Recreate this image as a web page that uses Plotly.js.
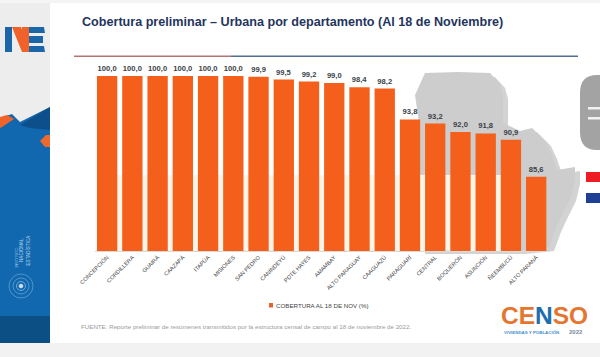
<!DOCTYPE html>
<html><head><meta charset="utf-8">
<script src="https://cdn.plot.ly/plotly-3.0.1.min.js"></script>
<style>html,body{margin:0;padding:0;background:#fff}#c{width:600px;height:357px}</style>
</head><body><div id="c"></div>
<script>
const departamentos = ["CONCEPCIÓN","CORDILLERA","GUAIRÁ","CAAZAPÁ","ITAPÚA","MISIONES","SAN PEDRO","CANINDEYÚ","PDTE HAYES","AMAMBAY","ALTO PARAGUAY","CAAGUAZÚ","PARAGUARÍ","CENTRAL","BOQUERÓN","ASUNCIÓN","ÑEEMBUCÚ","ALTO PARANÁ"];
const cobertura = [100.0,100.0,100.0,100.0,100.0,100.0,99.9,99.5,99.2,99.0,98.4,98.2,93.8,93.2,92.0,91.8,90.9,85.6];
const serieNombre = "COBERTURA AL 18 DE NOV (%)";
const tituloTexto = "Cobertura preliminar – Urbana por departamento (Al 18 de Noviembre)";
const fuenteTexto = "FUENTE: Reporte preliminar de resúmenes transmitidos por la estructura censal de campo al 18 de noviembre de 2022.";

const W = 600, H = 357;
const px = x => x / W, py = y => 1 - y / H;
const path = (pts, close = true) => pts.map((p, i) => (i ? "L" : "M") + px(p[0]).toFixed(4) + "," + py(p[1]).toFixed(4)).join(" ") + (close ? " Z" : "");
const rect = (x0, y0, x1, y1, fill, layer = "below") => ({type: "rect", xref: "paper", yref: "paper", x0: px(x0), x1: px(x1), y0: py(y0), y1: py(y1), fillcolor: fill, line: {width: 0}, layer});
const poly = (pts, fill, layer = "below", opacity = 1) => ({type: "path", xref: "paper", yref: "paper", path: path(pts), fillcolor: fill, line: {width: 0}, layer, opacity});
const circle = (cx, cy, r, col, w, fill) => ({type: "circle", xref: "paper", yref: "paper", x0: px(cx - r), x1: px(cx + r), y0: py(cy + r), y1: py(cy - r), line: {color: col, width: w}, fillcolor: fill || "rgba(0,0,0,0)", layer: "below"});

const mapa = [[425,73],[458,72],[490,73],[500,84],[503,95],[503,123],[520,131],[532,128],[546,142],[552,155],[557,170],[575,167],[575,180],[571,197],[562,215],[556,228],[549,247],[520,250],[420,250],[416,180],[420,130],[415,95]];
const sombra = mapa.map(p => [p[0] + 5, p[1] + 4]);

const shapes = [
  rect(0, 0, 600, 3, "#f4f4f4"),
  rect(0, 343, 600, 357, "#f2f2f2"),
  rect(0, 3, 50, 343, "#ededed"),
  poly([[0,118],[12,114],[20,122],[50,107],[50,300],[0,300]], "#1268ae"),
  poly([[20,125],[50,107],[50,130],[30,128]], "#0d4f8a"),
  poly([[0,117],[7,115],[14,119],[2,127],[0,128]], "#f0642a"),
  poly([[40,141],[46,135],[50,135],[50,147],[45,147]], "#ec6a30"),
  rect(0, 250, 50, 316, "#1268ae"),
  rect(0, 316, 50, 343, "#0b4f85"),
  circle(21, 286, 12, "#5f9fd0", 0.8),
  circle(21, 286, 8, "#5f9fd0", 0.8),
  circle(21, 286, 4.5, "#6fa9d8", 1),
  circle(21, 286, 2, "#cfe3f4", 0.5, "#cfe3f4"),
  // logo NE
  rect(5, 27, 12, 52, "#1a66a8"),
  poly([[12,27],[21,27],[30,52],[22,52]], "#f0622a"),
  rect(22, 27, 29, 52, "#f0622a"),
  poly([[29,27],[44,27],[45,33],[29,33]], "#1a66a8"),
  poly([[29,36],[43,36],[43,43],[29,43]], "#1a66a8"),
  poly([[29,46],[44,46],[45,52],[29,52]], "#1a66a8"),
  // líneas bajo el título
  rect(74, 55.6, 231, 57, "#b9726f"),
  rect(231, 55.6, 578, 57, "#4f6f95"),
  // mapa
  poly(sombra, "#a8a8a8", "below", 0.5),
  poly(mapa, "#cdcdcd"),
  rect(97, 175, 521, 251, "#fff4e8"),
  // píldora y bandera
  {type: "path", xref: "paper", yref: "paper", path: "M" + px(600) + "," + py(75) + " L" + px(597) + "," + py(75) + " Q" + px(580) + "," + py(75) + " " + px(580) + "," + py(93) + " L" + px(580) + "," + py(132) + " Q" + px(580) + "," + py(150) + " " + px(597) + "," + py(150) + " L" + px(600) + "," + py(150) + " Z", fillcolor: "#a3a3a3", line: {width: 0}, layer: "below"},
  rect(588, 107, 600, 109.5, "#f2f2f2"),
  rect(588, 117, 600, 119.5, "#f2f2f2"),
  rect(586, 172, 600, 182, "#ee1c25"),
  rect(586, 193, 600, 203, "#1f3f95"),
  // clave de la leyenda
  rect(269, 303, 273, 307.5, "#e8622b")
];

const ann = (text, x, y, size, color, extra = {}) => Object.assign({text, x: px(x), y: py(y), xref: "paper", yref: "paper", showarrow: false, xanchor: "left", yanchor: "middle", borderpad: 0, font: {size, color, family: "Liberation Sans, Arial, sans-serif"}}, extra);

const annotations = [
  ann("<b>" + tituloTexto + "</b>", 81, 22, 12.6, "#1f3560"),
  ann(serieNombre, 274.5, 305, 6.2, "#444"),
  ann(fuenteTexto, 80, 326, 6.2, "#9a9a9a"),
  ann("<b><span style='color:#e4762f'>CE</span><span style='color:#1c6fae'>N</span><span style='color:#e4762f'>SO</span></b>", 500, 315, 24.5, "#e4762f"),
  ann("<b>VIVIENDAS Y POBLACIÓN</b>", 503, 332.5, 4.4, "#3f8fd0"),
  ann("<b>2022</b>", 568, 332, 6, "#7a8aa0"),
  ann("INSTITUTO", 16.5, 258, 3.8, "#9fc4e4", {textangle: -90, xanchor: "center"}),
  ann("NACIONAL", 22, 250, 4.6, "#bcd6ec", {textangle: -90, xanchor: "center"}),
  ann("ESTADÍSTICA", 27.5, 250, 4.6, "#bcd6ec", {textangle: -90, xanchor: "center"})
];

const trace = {
  type: "bar", x: departamentos, y: cobertura, name: serieNombre,
  marker: {color: "#f45f1b", line: {width: 0}},
  texttemplate: "<b>%{y:.1f}</b>", textposition: "outside", cliponaxis: false,
  textfont: {size: 7.6, color: "#3a3f46", family: "Liberation Sans, Arial, sans-serif"},
  hoverinfo: "x+y"
};

const layout = {
  width: W, height: H, margin: {l: 0, r: 0, t: 0, b: 0, pad: 0}, autosize: false,
  paper_bgcolor: "#ffffff", plot_bgcolor: "rgba(0,0,0,0)", separators: ",.",
  bargap: 0.195, showlegend: false, shapes, annotations,
  xaxis: {domain: [94.5 / W, 548.8 / W], type: "category", tickangle: -45, showline: true, linecolor: "#d9d9d9", linewidth: 1, ticks: "", showgrid: false, automargin: false,
    tickfont: {size: 5.6, color: "#444", family: "Liberation Sans, Arial, sans-serif"}},
  yaxis: {domain: [1 - 251 / H, 1 - 76 / H], range: [75, 100], visible: false, showgrid: false, zeroline: false, automargin: false}
};
Plotly.newPlot("c", [trace], layout, {displayModeBar: false, staticPlot: true});
</script></body></html>
